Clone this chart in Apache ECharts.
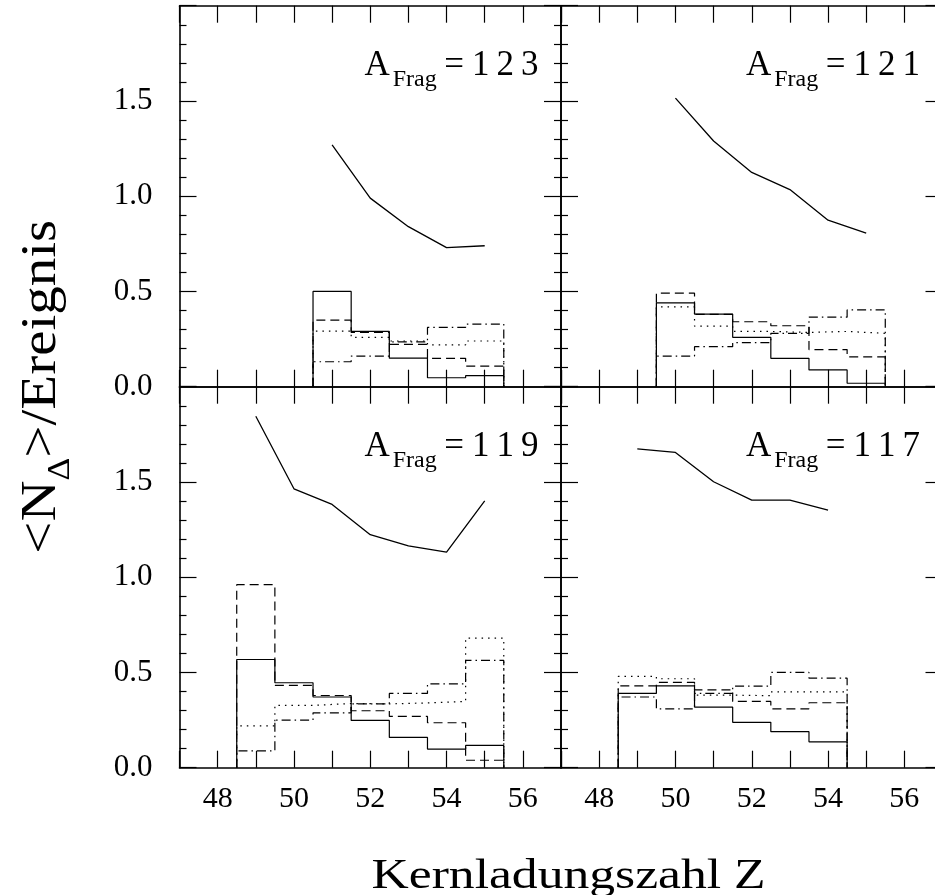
<!DOCTYPE html>
<html>
<head>
<meta charset="utf-8">
<script src="https://cdn.jsdelivr.net/npm/echarts@6/dist/echarts.min.js"></script>
<style>
  html, body { margin: 0; padding: 0; background: #fff; }
  #chart { width: 935px; height: 895px; }
</style>
</head>
<body>
<div id="chart"></div>
<script>
// Fragment mass numbers of the four panels: top-left, top-right, bottom-left, bottom-right
const fragMasses = ['123', '121', '119', '117'];

// Charge numbers Z (bin centres of the histograms, vertices of the curves)
const z123 = [51, 52, 53, 54, 55];
const z121 = [50, 51, 52, 53, 54, 55];
const z119 = [49, 50, 51, 52, 53, 54, 55];
const z117 = [49, 50, 51, 52, 53, 54];

// Upper curves (solid polyline)
const curve123 = [1.27, 0.99, 0.84, 0.73, 0.74];
const curve121 = [1.515, 1.29, 1.125, 1.035, 0.874, 0.806];
const curve119 = [1.845, 1.464, 1.382, 1.223, 1.164, 1.132, 1.401];
const curve117 = [1.674, 1.655, 1.501, 1.405, 1.405, 1.352];

// Histograms: solid line
const solid123 = [0.50, 0.29, 0.15, 0.047, 0.058];
const solid121 = [0.44, 0.381, 0.259, 0.149, 0.088, 0.018];
const solid119 = [0.568, 0.446, 0.371, 0.248, 0.159, 0.098, 0.117];
const solid117 = [0.39, 0.43, 0.318, 0.238, 0.189, 0.136];

// Histograms: dashed line
const dashed123 = [0.35, 0.285, 0.222, 0.149, 0.108];
const dashed121 = [0.491, 0.38, 0.341, 0.32, 0.195, 0.157];
const dashed119 = [0.961, 0.432, 0.379, 0.299, 0.269, 0.236, 0.039];
const dashed117 = [0.43, 0.448, 0.409, 0.348, 0.309, 0.341];

// Histograms: dotted line
const dotted123 = [0.292, 0.259, 0.24, 0.22, 0.24];
const dotted121 = [0.419, 0.318, 0.29, 0.285, 0.29, 0.28];
const dotted119 = [0.22, 0.327, 0.337, 0.335, 0.34, 0.348, 0.68];
const dotted117 = [0.479, 0.467, 0.381, 0.378, 0.398, 0.398];

// Histograms: dash-dotted line
const dashdot123 = [0.131, 0.161, 0.235, 0.311, 0.329];
const dashdot121 = [0.161, 0.21, 0.231, 0.28, 0.365, 0.403];
const dashdot119 = [0.088, 0.25, 0.288, 0.335, 0.39, 0.44, 0.563];
const dashdot117 = [0.371, 0.309, 0.39, 0.428, 0.5, 0.47];

// Tick labels
const xTickLabels = ['48', '50', '52', '54', '56'];
const yTickLabels = ['0.0', '0.5', '1.0', '1.5'];

// Axis titles
const xTitle = 'Kernladungszahl Z';

// ---------------------------------------------------------------
const FONT = 'Liberation Serif';
const INK = '#000';

const panels = [
  { z: z123, curve: curve123, hist: [solid123, dashed123, dotted123, dashdot123] },
  { z: z121, curve: curve121, hist: [solid121, dashed121, dotted121, dashdot121] },
  { z: z119, curve: curve119, hist: [solid119, dashed119, dotted119, dashdot119] },
  { z: z117, curve: curve117, hist: [solid117, dashed117, dotted117, dashdot117] }
];

// Layout of the 2x2 panel block (pixels)
const COL_LEFT = [179.5, 561];
const ROW_TOP = [5.7, 386.7];
const PANEL_W = 381.5;
const PANEL_H = 381;

const histLineTypes = ['solid', [9, 5], [1.5, 5], [9, 4, 1.5, 4]];

// Step outline of a histogram with unit-wide bins centred on z
function stepOutline(z, vals) {
  const half = 0.5;
  const pts = [[z[0] - half, 0]];
  z.forEach((c, i) => {
    pts.push([c - half, vals[i]]);
    pts.push([c + half, vals[i]]);
  });
  pts.push([z[z.length - 1] + half, 0]);
  return pts;
}

const axisLineStyle = { color: INK, width: 1.6 };
const tickLineStyle = { color: INK, width: 1.2 };

function xAxisFor(gi, position, showLabels) {
  return {
    type: 'value', gridIndex: gi, position: position,
    min: 47, max: 57, interval: 1,
    axisLine: { show: true, onZero: false, lineStyle: axisLineStyle },
    axisTick: { show: true, inside: true, length: 17, lineStyle: tickLineStyle },
    splitLine: { show: false },
    axisLabel: {
      show: showLabels, margin: 16, color: INK, fontSize: 30, fontFamily: FONT,
      formatter: v => (xTickLabels.includes(String(v)) ? String(v) : '')
    }
  };
}

function yAxisFor(gi, position, showLabels) {
  return {
    type: 'value', gridIndex: gi, position: position,
    min: 0, max: 2, interval: 0.5,
    axisLine: { show: true, onZero: false, lineStyle: axisLineStyle },
    axisTick: { show: true, inside: true, length: 17, lineStyle: tickLineStyle },
    minorTick: { show: true, splitNumber: 5, length: 7, lineStyle: tickLineStyle },
    splitLine: { show: false },
    minorSplitLine: { show: false },
    axisLabel: {
      show: showLabels, margin: 27, color: INK, fontSize: 31, fontFamily: FONT,
      formatter: v => { const s = v.toFixed(1); return yTickLabels.includes(s) ? s : ''; }
    }
  };
}

const grids = [], xAxes = [], yAxes = [], series = [], graphics = [];

panels.forEach((p, gi) => {
  const col = gi % 2, row = Math.floor(gi / 2);
  grids.push({
    left: COL_LEFT[col], top: ROW_TOP[row], width: PANEL_W, height: PANEL_H,
    outerBoundsMode: 'none', containLabel: false
  });
  xAxes.push(xAxisFor(gi, 'bottom', row === 1));
  xAxes.push(xAxisFor(gi, 'top', false));
  yAxes.push(yAxisFor(gi, 'left', col === 0));
  yAxes.push(yAxisFor(gi, 'right', false));

  series.push({
    type: 'line', xAxisIndex: 2 * gi, yAxisIndex: 2 * gi,
    data: p.z.map((zz, i) => [zz, p.curve[i]]),
    showSymbol: false, symbol: 'none', silent: true,
    lineStyle: { color: INK, width: 1.3, type: 'solid' }
  });
  p.hist.forEach((vals, k) => {
    series.push({
      type: 'line', xAxisIndex: 2 * gi, yAxisIndex: 2 * gi,
      data: stepOutline(p.z, vals),
      showSymbol: false, symbol: 'none', silent: true,
      lineStyle: { color: INK, width: 1.2, type: histLineTypes[k] }
    });
  });

  // Panel label A_Frag = ...
  const digits = fragMasses[gi].split('').map(d => '{d|' + d + '}').join('');
  graphics.push({
    type: 'text',
    x: COL_LEFT[col] + PANEL_W - 19,
    y: ROW_TOP[row] + 34.5,
    style: {
      x: 0, y: 0,
      text: '{a|A}{s|Frag}{e|=}' + digits,
      align: 'right', verticalAlign: 'top',
      fill: INK, fontFamily: FONT,
      rich: {
        a: { fontSize: 35, fontFamily: FONT, fill: INK, lineHeight: 52, padding: [0, 2, 0, 0] },
        s: { fontSize: 24, fontFamily: FONT, fill: INK, lineHeight: 52, verticalAlign: 'bottom', padding: [0, 3, 0, 1] },
        e: { fontSize: 35, fontFamily: FONT, fill: INK, lineHeight: 52, padding: [0, 4.5] },
        d: { fontSize: 35, fontFamily: FONT, fill: INK, lineHeight: 52, padding: [0, 3.5] }
      }
    }
  });
});

// Axis titles
graphics.push({
  type: 'text',
  x: 568.5, y: 876.5, scaleX: 1.2,
  style: {
    x: 0, y: 0, text: xTitle, fill: INK,
    fontSize: 43, fontFamily: FONT, align: 'center', verticalAlign: 'middle'
  }
});
graphics.push({
  type: 'text',
  x: 42, y: 386.7, rotation: Math.PI / 2, scaleX: 1.14,
  style: {
    x: 0, y: 0,
    text: '{m|<N}{s|Δ}{m|>/Ereignis}',
    fill: INK, align: 'center', verticalAlign: 'middle', fontFamily: FONT,
    rich: {
      m: { fontSize: 50, fontFamily: FONT, fill: INK, lineHeight: 68 },
      s: { fontSize: 31, fontFamily: FONT, fill: INK, lineHeight: 68, verticalAlign: 'bottom' }
    }
  }
});

const chart = echarts.init(document.getElementById('chart'), null, { renderer: 'canvas' });
chart.setOption({
  animation: false,
  backgroundColor: '#fff',
  grid: grids,
  xAxis: xAxes,
  yAxis: yAxes,
  series: series,
  graphic: graphics
});
</script>
</body>
</html>
